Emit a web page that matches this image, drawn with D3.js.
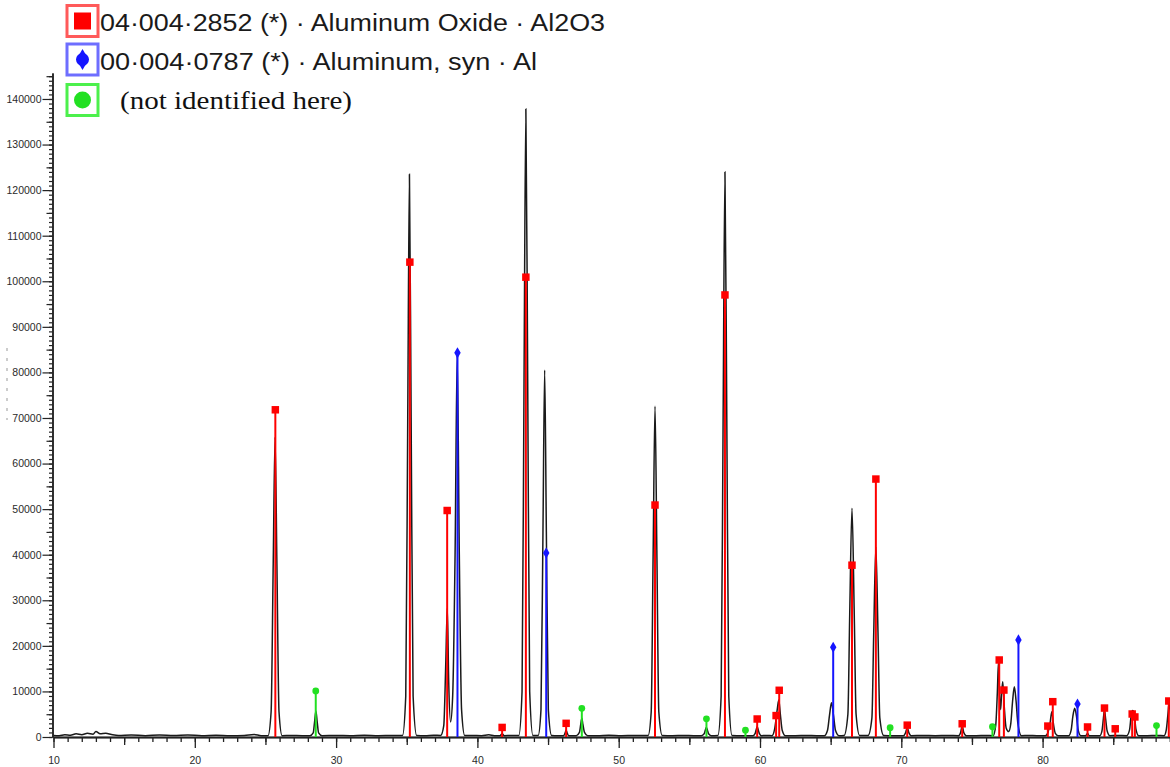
<!DOCTYPE html>
<html>
<head>
<meta charset="utf-8">
<script src="https://cdnjs.cloudflare.com/ajax/libs/d3/7.8.5/d3.min.js"></script>
<style>
  body { margin: 0; background: #fff; }
  svg { display: block; }
  .axis text { font-family: "Liberation Sans", Arial, sans-serif; fill: #2a2a2a; }
  .axis line, .axis path { stroke: #222; }
</style>
</head>
<body>
<div id="chart"></div>
<script>
const observed = [
  [10,350],[10.4,300],[10.8,500],[11.2,400],[11.6,700],[12.0,500],[12.4,800],[12.8,600],[13.0,1200],[13.3,700],
  [13.7,800],[14.1,550],[14.6,350],[15.5,450],[16.5,300],[17.5,450],[18.5,350],[19.5,450],[20.5,300],[21.5,400],
  [22.5,300],[23.5,350],[24.2,550],[24.7,300],
  [25.18,300],[25.40,5500],[25.55,38000],[25.68,65800],[25.81,38000],[25.96,5500],[26.18,300],
  [26.8,350],[27.6,300],
  [28.15,300],[28.38,900],[28.48,3400],[28.57,5700],[28.66,3400],[28.76,900],[29.0,300],
  [30,350],[31,300],[32,400],[33,300],[34,350],
  [34.7,350],[34.93,9000],[35.07,70000],[35.19,123500],[35.31,70000],[35.45,9000],[35.7,350],
  [36.3,300],[36.9,400],
  [37.4,350],[37.62,2500],[37.76,16000],[37.87,28300],[37.97,12000],[38.1,3300],[38.25,9000],[38.42,40000],
  [38.57,83800],[38.72,40000],[38.88,6000],[39.1,350],
  [39.6,350],[40.3,300],[40.8,500],[41.2,300],
  [41.6,300],[41.75,700],[41.9,300],
  [42.4,350],
  [42.93,350],[43.16,10000],[43.30,78000],[43.43,137800],[43.56,78000],[43.70,10000],[43.93,350],
  [44.3,350],[44.50,6000],[44.64,45000],[44.76,80500],[44.88,45000],[45.02,6000],[45.25,350],
  [45.7,300],
  [46.1,300],[46.2,800],[46.28,1500],[46.36,800],[46.46,300],
  [47.0,300],[47.22,1000],[47.31,2700],[47.39,4100],[47.47,2700],[47.58,1000],[47.8,300],
  [48.5,300],[49.3,400],[50.2,300],[51.1,350],
  [52.08,350],[52.30,5500],[52.44,41000],[52.57,72600],[52.70,41000],[52.84,5500],[53.08,350],
  [53.8,300],[54.6,350],[55.3,300],
  [55.85,300],[56.05,700],[56.13,1500],[56.2,2100],[56.28,1500],[56.36,700],[56.55,300],
  [57.02,350],[57.25,9000],[57.39,70000],[57.52,124000],[57.65,70000],[57.79,9000],[58.02,350],
  [58.7,300],
  [59.5,300],[59.66,800],[59.73,1600],[59.8,2250],[59.87,1600],[59.95,800],[60.1,300],
  [60.5,350],
  [60.85,300],[61.02,1500],[61.15,4300],[61.24,6500],[61.33,8100],[61.44,5000],[61.57,1500],[61.8,300],
  [62.5,300],[63.3,350],[64.0,300],
  [64.55,300],[64.78,1500],[64.92,4800],[65.06,7500],[65.2,4800],[65.34,1500],[65.6,300],
  [65.95,350],[66.22,5000],[66.35,27000],[66.51,50200],[66.67,27000],[66.80,5000],[67.05,350],
  [67.35,350],
  [67.65,350],[67.92,4200],[68.05,23000],[68.20,41700],[68.35,23000],[68.48,4200],[68.75,350],
  [69.4,300],
  [70.15,300],[70.3,900],[70.42,2100],[70.54,900],[70.7,300],
  [71.5,350],[72.4,300],[73.3,350],
  [74.05,300],[74.2,1000],[74.31,2400],[74.42,1000],[74.6,300],
  [75.3,300],[76.0,350],
  [76.5,300],[76.68,2500],[76.80,10000],[76.88,16500],[76.96,9000],[77.03,6000],[77.10,9500],[77.18,12100],
  [77.28,7000],[77.42,2000],[77.6,1200],[77.75,3000],[77.88,8000],[78.0,11000],[78.12,8000],[78.25,3000],[78.5,300],
  [79.0,350],[79.6,300],
  [80.2,300],[80.38,1000],[80.52,2800],[80.65,5550],[80.77,2800],[80.9,800],[81.1,300],
  [81.5,300],
  [81.85,300],[82.02,1500],[82.14,4500],[82.27,6300],[82.4,4500],[82.52,1500],[82.7,300],
  [83.05,300],[83.18,800],[83.3,300],
  [83.7,300],
  [84.05,300],[84.2,1300],[84.3,4000],[84.38,5900],[84.46,4000],[84.57,1300],[84.75,300],
  [85.3,350],
  [85.95,300],[86.15,1500],[86.28,5000],[86.38,5800],[86.48,5200],[86.6,1800],[86.8,300],
  [87.4,300],[88.1,350],
  [88.6,300],[88.75,1500],[88.87,5000],[88.95,7400],[89.05,5000],[89.15,1500],[89.4,300],
  [90,300]
];

// Reference patterns (stick positions / intensities)
const al2o3Pos = [25.70, 35.22, 37.86, 41.75, 43.43, 46.28, 52.57, 57.52, 59.80, 61.14, 61.36, 66.51, 68.20,
  70.42, 74.31, 76.93, 77.26, 80.37, 80.72, 83.18, 84.38, 85.14, 86.34, 86.53, 88.93];
const al2o3Int = [71800, 104200, 49700, 2100, 100900, 3000, 50900, 97000, 3950, 4700, 10250, 37700, 56600,
  2600, 2900, 16900, 10300, 2400, 7750, 2200, 6350, 1800, 5050, 4400, 7900];
const alPos = [38.59, 44.87, 65.18, 78.29, 82.47];
const alInt = [84300, 40400, 19700, 21300, 7250];
const otherPos = [28.56, 47.39, 56.21, 58.97, 69.21, 76.45, 88.06];
const otherInt = [10100, 6300, 4000, 1500, 2050, 2250, 2500];

const legendLabels = ["04\u00b7004\u00b72852 (*) \u00b7 Aluminum Oxide \u00b7 Al2O3",
  "00\u00b7004\u00b70787 (*) \u00b7 Aluminum, syn \u00b7 Al",
  "(not identified here)"];
const xMajor = [10, 20, 30, 40, 50, 60, 70, 80];
const yMajor = [0, 10000, 20000, 30000, 40000, 50000, 60000, 70000, 80000, 90000, 100000, 110000, 120000, 130000, 140000];

const w = 1170, h = 767;
const svg = d3.select("#chart").append("svg").attr("width", w).attr("height", h);

const x = d3.scaleLinear().domain([10, 90]).range([53.5, 53.5 + 80 * 14.13]);
const y = d3.scaleLinear().domain([0, 145700]).range([737, 73]);

svg.append("clipPath").attr("id", "plot").append("rect")
  .attr("x", 52).attr("y", 60).attr("width", w - 52).attr("height", 680);

// faint remnant of the cut-off y title
svg.append("line").attr("x1", 7).attr("x2", 7).attr("y1", 348).attr("y2", 420)
  .attr("stroke", "#999").attr("stroke-width", 1).attr("stroke-dasharray", "3,7");

// x axis: minor / mid / major ticks
const xMinor = d3.range(10, 90, 1), xMid = d3.range(15, 90, 10);
const gx = svg.append("g").attr("class", "axis").attr("transform", "translate(0," + y(0) + ")");
gx.append("g").call(d3.axisBottom(x).tickValues(xMinor).tickSize(5).tickFormat("").tickSizeOuter(0));
gx.append("g").call(d3.axisBottom(x).tickValues(xMid).tickSize(8).tickFormat("").tickSizeOuter(0));
gx.append("g").call(d3.axisBottom(x).tickValues(xMajor).tickSize(11).tickPadding(9).tickSizeOuter(0));
gx.selectAll("text").attr("font-size", 10.5);
gx.selectAll("line, path").attr("stroke-width", 1.3);

// y axis
const yMinor = d3.range(0, 145001, 1000), yMid = d3.range(5000, 145001, 10000);
const gy = svg.append("g").attr("class", "axis").attr("transform", "translate(52.5,0)");
gy.append("g").call(d3.axisLeft(y).tickValues(yMinor).tickSize(3.5).tickFormat("").tickSizeOuter(0));
gy.append("g").call(d3.axisLeft(y).tickValues(yMid).tickSize(6).tickFormat("").tickSizeOuter(0));
gy.append("g").call(d3.axisLeft(y).tickValues(yMajor).tickSize(10).tickPadding(1).tickSizeOuter(0).tickFormat(d3.format("d")));
gy.selectAll("text").attr("font-size", 10.5);
gy.selectAll("line, path").attr("stroke-width", 1.2);

const plot = svg.append("g").attr("clip-path", "url(#plot)");

// observed trace
const line = d3.line().x(d => x(d[0])).y(d => y(d[1])).curve(d3.curveMonotoneX);
plot.append("path").datum(observed).attr("d", line)
  .attr("fill", "none").attr("stroke", "#1a1a1a").attr("stroke-width", 1.5);

// sticks
function sticks(pos, val, color, shape) {
  const data = pos.map((p, i) => ({p: p, v: val[i]}));
  const g = plot.append("g");
  g.selectAll("line").data(data).enter().append("line")
    .attr("x1", d => x(d.p)).attr("x2", d => x(d.p))
    .attr("y1", y(0)).attr("y2", d => y(d.v))
    .attr("stroke", color).attr("stroke-width", 2);
  g.selectAll("path").data(data).enter().append("path")
    .attr("transform", d => "translate(" + x(d.p) + "," + y(d.v) + ")")
    .attr("d", d3.symbol().type(shape).size(shape === d3.symbolSquare ? 56 : 36))
    .attr("fill", color);
}
sticks(otherPos, otherInt, "#22e022", d3.symbolCircle);
sticks(alPos, alInt, "#1515ff", d3.symbolDiamond);
sticks(al2o3Pos, al2o3Int, "#ff0000", d3.symbolSquare);

// legend
const legColors = ["#ff0000", "#1515ff", "#22e022"];
const legBox = ["#ff5a5a", "#6e6eff", "#4cf04c"];
const legY = [21, 59.5, 100];
const leg = svg.append("g");
legendLabels.forEach(function(t, i) {
  leg.append("rect").attr("x", 67).attr("y", legY[i] - 15.5).attr("width", 31).attr("height", 31)
    .attr("fill", "#fff").attr("stroke", legBox[i]).attr("stroke-width", 3);
  if (i == 0) {
    leg.append("rect").attr("x", 74).attr("y", legY[i] - 8.5).attr("width", 17).attr("height", 17).attr("fill", legColors[i]);
  } else if (i == 1) {
    leg.append("path").attr("transform", "translate(82.5," + legY[i] + ")")
      .attr("d", d3.symbol().type(d3.symbolDiamond).size(130)).attr("fill", legColors[i]);
    leg.append("circle").attr("cx", 82.5).attr("cy", legY[i]).attr("r", 6.5).attr("fill", legColors[i]);
  } else {
    leg.append("circle").attr("cx", 82.5).attr("cy", legY[i]).attr("r", 8.5).attr("fill", legColors[i]);
  }
});
leg.append("text").text(legendLabels[0]).attr("x", 100).attr("y", legY[0] + 10)
  .attr("font-family", "Liberation Sans, Arial, sans-serif").attr("font-size", 23).attr("fill", "#1a1a1a")
  .attr("textLength", 505).attr("lengthAdjust", "spacingAndGlyphs");
leg.append("text").text(legendLabels[1]).attr("x", 100).attr("y", legY[1] + 10)
  .attr("font-family", "Liberation Sans, Arial, sans-serif").attr("font-size", 23).attr("fill", "#1a1a1a")
  .attr("textLength", 437).attr("lengthAdjust", "spacingAndGlyphs");
leg.append("text").text(legendLabels[2]).attr("x", 120).attr("y", legY[2] + 9)
  .attr("font-family", "Liberation Serif, Times New Roman, serif").attr("font-size", 25).attr("fill", "#111")
  .attr("textLength", 232).attr("lengthAdjust", "spacingAndGlyphs");
</script>
</body>
</html>
